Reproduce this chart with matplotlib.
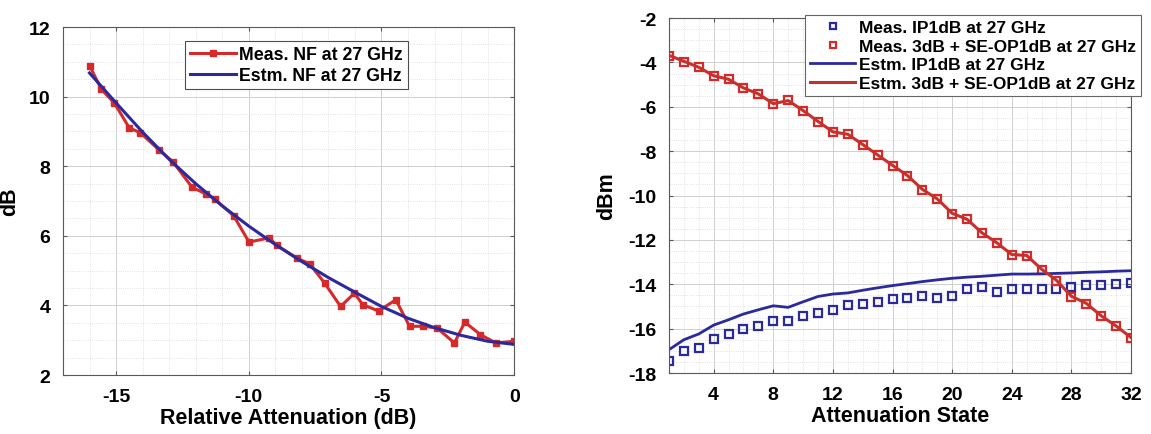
import numpy as np
import matplotlib
matplotlib.use("Agg")
import matplotlib.pyplot as plt
from matplotlib.ticker import MultipleLocator

plt.rcParams.update({"font.family": ["Liberation Sans", "DejaVu Sans"],
                     "font.weight": "bold", "axes.labelweight": "bold",
                     "axes.unicode_minus": False})

# left panel: noise figure vs relative attenuation
nf_att = [-16.0, -15.55, -15.06, -14.5, -14.08, -13.37, -12.85, -12.13, -11.6, -11.29,
          -10.57, -9.99, -9.23, -8.95, -8.17, -7.71, -7.13, -6.54, -6.02, -5.7, -5.11,
          -4.46, -3.94, -3.42, -2.9, -2.25, -1.86, -1.27, -0.69, 0.0]
nf_meas = [10.89, 10.21, 9.81, 9.10, 8.96, 8.46, 8.12, 7.39, 7.20, 7.06,
           6.58, 5.82, 5.94, 5.73, 5.35, 5.20, 4.63, 3.97, 4.35, 4.02, 3.84,
           4.16, 3.40, 3.40, 3.35, 2.92, 3.52, 3.16, 2.92, 2.97]
nf_est_att = [-16, -15, -14, -13, -12, -11, -10, -9, -8, -7, -6, -5, -4, -3, -2, -1, 0]
nf_est = [10.68, 9.82, 8.98, 8.2, 7.5, 6.86, 6.28, 5.75, 5.26, 4.8, 4.38, 3.97, 3.63,
          3.36, 3.14, 2.97, 2.88]

# right panel: P1dB vs attenuation state
state = list(range(1, 33))
ip1_meas = [-17.44, -17.02, -16.87, -16.47, -16.24, -16.02, -15.87, -15.64, -15.64, -15.44,
            -15.29, -15.15, -14.93, -14.89, -14.78, -14.66, -14.62, -14.51, -14.62, -14.51,
            -14.21, -14.14, -14.33, -14.21, -14.21, -14.21, -14.21, -14.14, -14.03, -14.03,
            -13.99, -13.94]
op1_meas = [-3.70, -3.97, -4.22, -4.63, -4.75, -5.17, -5.42, -5.88, -5.70, -6.18,
            -6.67, -7.15, -7.23, -7.71, -8.17, -8.66, -9.11, -9.74, -10.16, -10.83,
            -11.07, -11.69, -12.14, -12.68, -12.71, -13.34, -13.84, -14.56, -14.87, -15.44,
            -15.89, -16.42]
ip1_est = [-16.95, -16.5, -16.24, -15.84, -15.6, -15.34, -15.15, -14.97, -15.04, -14.79,
           -14.55, -14.44, -14.39, -14.27, -14.16, -14.06, -13.97, -13.88, -13.80, -13.73,
           -13.68, -13.64, -13.59, -13.54, -13.54, -13.53, -13.51, -13.49, -13.46, -13.44,
           -13.41, -13.39]
op1_est = [-3.68, -3.95, -4.22, -4.6, -4.76, -5.15, -5.42, -5.86, -5.72, -6.17,
           -6.66, -7.13, -7.24, -7.7, -8.17, -8.64, -9.1, -9.72, -10.15, -10.8,
           -11.07, -11.68, -12.13, -12.66, -12.7, -13.32, -13.82, -14.54, -14.86, -15.42,
           -15.88, -16.4]

RED = "#d62a2a"
BLUE = "#2a2a9e"


def style(ax):
    ax.grid(which="major", color="#cfcfcf", lw=0.7)
    ax.grid(which="minor", color="#dadada", lw=0.6, ls=":")
    ax.set_axisbelow(True)
    for s in ax.spines.values():
        s.set_color("0.35")
        s.set_linewidth(0.8)
    ax.tick_params(which="both", direction="in", top=True, right=True,
                   labelsize=14, color="0.35")
    ax.tick_params(which="minor", length=0)
    ax.tick_params(which="major", length=3, pad=9)


fig = plt.figure(figsize=(11.51, 4.35), dpi=100)

ax1 = fig.add_axes([0.0547, 0.1356, 0.392, 0.80])
ax1.plot(nf_att, nf_meas, "-s", color=RED, lw=2.2, ms=4, label="Meas. NF at 27 GHz")
ax1.plot(nf_est_att, nf_est, "-", color=BLUE, lw=2.2, label="Estm. NF at 27 GHz")
ax1.set_xlim(-17, 0)
ax1.set_ylim(2, 12)
ax1.set_xticks([-15, -10, -5, 0])
ax1.set_yticks([2, 4, 6, 8, 10, 12])
ax1.xaxis.set_minor_locator(MultipleLocator(1))
ax1.yaxis.set_minor_locator(MultipleLocator(0.5))
style(ax1)
ax1.set_xlabel("Relative Attenuation (dB)", fontsize=15.5, labelpad=2)
ax1.set_ylabel("dB", fontsize=15.5, labelpad=6)
leg1 = ax1.legend(loc="upper left", bbox_to_anchor=(0.25, 0.985), fontsize=12.8,
                  handlelength=2.6, handletextpad=0.15, labelspacing=0.2,
                  borderpad=0.3, fancybox=False, framealpha=1, edgecolor="0.3")
leg1.get_frame().set_linewidth(0.8)

ax2 = fig.add_axes([0.5812, 0.1402, 0.4014, 0.816])
ax2.plot(state, ip1_meas, "s", ls="none", mfc="none", mec=BLUE, mew=1.6, ms=6,
         label="Meas. IP1dB at 27 GHz")
ax2.plot(state, op1_meas, "s", ls="none", mfc="none", mec=RED, mew=1.6, ms=6,
         label="Meas. 3dB + SE-OP1dB at 27 GHz")
ax2.plot(state, ip1_est, "-", color=BLUE, lw=2, label="Estm. IP1dB at 27 GHz")
ax2.plot(state, op1_est, "-", color="#c8302c", lw=2.2, label="Estm. 3dB + SE-OP1dB at 27 GHz")
ax2.set_xlim(1, 32)
ax2.set_ylim(-18, -2)
ax2.set_xticks(range(4, 33, 4))
ax2.set_yticks(range(-18, -1, 2))
ax2.xaxis.set_minor_locator(MultipleLocator(1))
ax2.yaxis.set_minor_locator(MultipleLocator(0.5))
style(ax2)
ax2.set_xlabel("Attenuation State", fontsize=15.5, labelpad=2)
ax2.set_ylabel("dBm", fontsize=15.5, labelpad=8)
leg2 = ax2.legend(loc="upper right", bbox_to_anchor=(0.999, 0.984),
                  bbox_transform=fig.transFigure, fontsize=12.5,
                  handlelength=2.6, handletextpad=0.2, labelspacing=0.2,
                  borderpad=0.3, fancybox=False, framealpha=1, edgecolor="0.4",
                  markerscale=0.75)
leg2.get_frame().set_linewidth(0.8)

fig.savefig("out.png", dpi=100)
